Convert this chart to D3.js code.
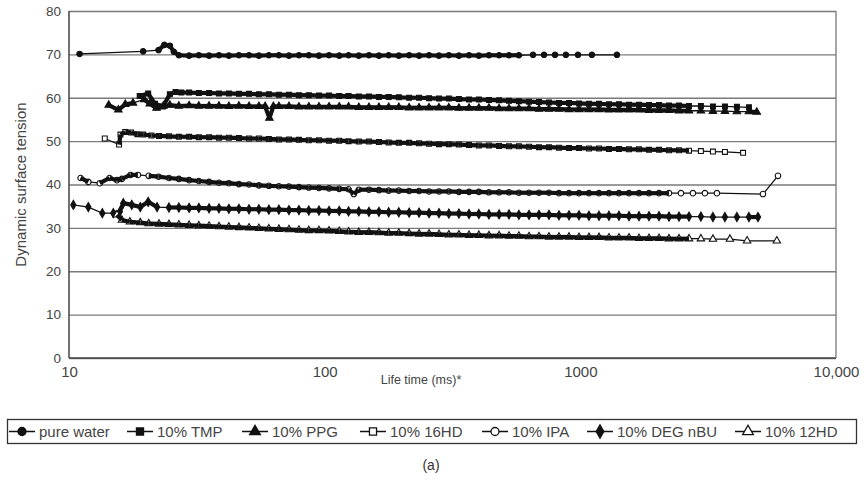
<!DOCTYPE html>
<html>
<head>
<meta charset="utf-8">
<script src="https://cdn.jsdelivr.net/npm/d3@7"></script>
<style>
  body { margin: 0; background: #fff; }
  svg { font-family: "Liberation Sans", Arial, sans-serif; }
</style>
</head>
<body>
<div id="chart"></div>
<script>
// Dynamic surface tension vs bubble life time, (a)

const seriesNames = ["pure water", "10% TMP", "10% PPG", "10% 16HD", "10% IPA", "10% DEG nBU", "10% 12HD"];
const yTicks = [0, 10, 20, 30, 40, 50, 60, 70, 80];
const xTicks = [10, 100, 1000, 10000];
const xTickLabels = ["10", "100", "1000", "10,000"];

// [life time ms, surface tension]
const pureWater = [[11,70.1],[19.5,70.7],[22.4,71.0],[23.6,72.2],[24.8,72.0],[25.7,70.6],[26.9,69.8],[29.5,69.7],[32.2,69.8],[35.3,69.7],[38.6,69.8],[42.2,69.7],[46.2,69.8],[50.6,69.8],[55.3,69.7],[60.5,69.8],[66.2,69.8],[72.5,69.7],[79.3,69.8],[86.7,69.8],[95,69.7],[104,69.8],[114,69.7],[124,69.8],[136,69.7],[149,69.8],[163,69.7],[178,69.8],[195,69.7],[214,69.8],[234,69.7],[256,69.8],[280,69.7],[306,69.8],[335,69.7],[367,69.8],[401,69.7],[439,69.8],[481,69.8],[526,69.8],[575,69.8],[653,69.9],[721,69.9],[796,69.9],[878,69.9],[979,69.9],[1110,69.9],[1390,69.9]];

const tmp = [[18.9,60.4],[20.4,61.0],[21.7,58.6],[23.3,58.0],[24.8,60.8],[26.1,61.3],[27.5,61.2],[29.5,61.2],[32.2,61.1],[35.3,61.1],[38.6,61.0],[42.2,61.0],[46.2,60.9],[50.6,60.9],[55.3,60.8],[60.5,60.8],[66.2,60.7],[72.5,60.7],[79.3,60.6],[86.7,60.6],[95,60.5],[104,60.5],[114,60.4],[124,60.4],[136,60.3],[149,60.3],[163,60.2],[178,60.2],[195,60.1],[214,60.0],[234,60.0],[256,59.9],[280,59.8],[306,59.8],[335,59.7],[367,59.6],[401,59.6],[439,59.5],[481,59.4],[526,59.3],[575,59.2],[630,59.1],[689,59.0],[754,58.9],[825,58.8],[903,58.8],[988,58.7],[1081,58.6],[1183,58.6],[1294,58.5],[1416,58.5],[1550,58.4],[1696,58.4],[1856,58.3],[2031,58.3],[2222,58.2],[2432,58.2],[2661,58.1],[2962,58.1],[3301,58.0],[3678,58.0],[4097,57.9],[4565,57.8]];

const ppg = [[14.3,58.3],[15.6,57.2],[16.6,58.5],[17.8,58.8],[19.7,59.6],[20.7,58.6],[22.0,57.6],[23.4,58.1],[24.8,58.3],[26.9,58.1],[29.5,58.2],[32.2,58.1],[35.3,58.1],[38.6,58.1],[42.2,58.0],[46.2,58.1],[50.6,58.0],[55.3,58.0],[58.5,58.0],[60.8,55.3],[63,58.0],[66.2,58.0],[72.5,58.0],[79.3,57.9],[86.7,57.9],[95,57.9],[104,57.9],[114,57.9],[124,57.9],[136,57.8],[149,57.8],[163,57.8],[178,57.8],[195,57.8],[214,57.7],[234,57.7],[256,57.7],[280,57.7],[306,57.7],[335,57.6],[367,57.6],[401,57.6],[439,57.6],[481,57.5],[526,57.5],[575,57.5],[630,57.5],[689,57.4],[754,57.4],[825,57.4],[903,57.3],[988,57.3],[1081,57.3],[1183,57.3],[1294,57.2],[1416,57.2],[1550,57.2],[1696,57.2],[1856,57.1],[2031,57.1],[2222,57.1],[2432,57.0],[2661,57.0],[2962,57.0],[3301,56.9],[3678,56.9],[4097,56.8],[4565,56.8],[4900,56.7]];

const hd16 = [[13.8,50.6],[15.7,49.2],[15.9,51.5],[16.6,52.1],[17.5,52.0],[18.5,51.6],[19.5,51.5],[21,51.3],[22.5,51.2],[24.6,51.1],[26.9,51.0],[29.5,51.0],[32.2,50.9],[35.3,50.9],[38.6,50.8],[42.2,50.8],[46.2,50.7],[50.6,50.6],[55.3,50.6],[60.5,50.5],[66.2,50.4],[72.5,50.4],[79.3,50.3],[86.7,50.2],[95,50.2],[104,50.1],[114,50.1],[124,50.0],[136,49.9],[149,49.9],[163,49.8],[178,49.7],[195,49.6],[214,49.6],[234,49.5],[256,49.4],[280,49.3],[306,49.3],[335,49.2],[367,49.1],[401,49.0],[439,49.0],[481,48.9],[526,48.8],[575,48.8],[630,48.7],[689,48.6],[754,48.6],[825,48.5],[903,48.4],[988,48.4],[1081,48.3],[1183,48.3],[1294,48.2],[1416,48.2],[1550,48.1],[1696,48.1],[1856,48.0],[2031,48.0],[2222,47.9],[2432,47.9],[2661,47.8],[2962,47.7],[3301,47.6],[3678,47.5],[4330,47.3]];

const ipa = [[11.1,41.5],[11.9,40.6],[13.2,40.3],[14.4,41.5],[15.4,41.0],[16.1,41.3],[17.4,42.2],[18.6,42.2],[20.5,42.0],[22.4,41.8],[24.6,41.5],[26.9,41.3],[29.5,41.0],[32.2,40.8],[35.3,40.6],[38.6,40.4],[42.2,40.3],[46.2,40.1],[50.6,40.0],[55.3,39.8],[60.5,39.7],[66.2,39.6],[72.5,39.5],[79.3,39.4],[86.7,39.3],[95,39.2],[104,39.1],[114,39.0],[124,38.9],[130,37.8],[136,38.8],[149,38.8],[163,38.7],[178,38.6],[195,38.6],[214,38.5],[234,38.5],[256,38.4],[280,38.4],[306,38.4],[335,38.3],[367,38.3],[401,38.3],[439,38.2],[481,38.2],[526,38.2],[575,38.1],[630,38.1],[689,38.1],[754,38.1],[825,38.0],[903,38.0],[988,38.0],[1081,38.0],[1183,38.0],[1294,38.0],[1416,38.0],[1550,38.0],[1696,38.0],[1856,38.0],[2031,38.0],[2222,38.0],[2475,38.0],[2756,38.0],[3071,38.0],[3421,38.0],[5180,37.8],[5930,42.0]];

const degNbu = [[10.4,35.3],[11.9,34.8],[13.5,33.4],[14.9,33.4],[15.8,33.7],[16.3,35.7],[17.6,35.3],[19.0,34.8],[20.4,36.0],[22.1,34.8],[24.6,34.7],[26.9,34.7],[29.5,34.6],[32.2,34.6],[35.3,34.5],[38.6,34.5],[42.2,34.4],[46.2,34.4],[50.6,34.3],[55.3,34.3],[60.5,34.2],[66.2,34.2],[72.5,34.1],[79.3,34.1],[86.7,34.0],[95,34.0],[104,33.9],[114,33.9],[124,33.8],[136,33.8],[149,33.7],[163,33.7],[178,33.6],[195,33.6],[214,33.5],[234,33.5],[256,33.4],[280,33.4],[306,33.3],[335,33.3],[367,33.2],[401,33.2],[439,33.1],[481,33.1],[526,33.1],[575,33.0],[630,33.0],[689,33.0],[754,33.0],[825,32.9],[903,32.9],[988,32.9],[1081,32.8],[1183,32.8],[1294,32.8],[1416,32.8],[1550,32.7],[1696,32.7],[1856,32.7],[2031,32.7],[2222,32.6],[2432,32.6],[2661,32.6],[2962,32.6],[3301,32.5],[3678,32.5],[4097,32.5],[4565,32.5],[4955,32.5]];

const hd12 = [[15.4,33.0],[16.1,31.8],[17.3,31.4],[19.0,31.2],[20.5,31.0],[22.5,30.9],[24.6,30.8],[26.9,30.7],[29.5,30.6],[32.2,30.5],[35.3,30.4],[38.6,30.3],[42.2,30.2],[46.2,30.1],[50.6,30.0],[55.3,29.9],[60.5,29.8],[66.2,29.7],[72.5,29.6],[79.3,29.5],[86.7,29.4],[95,29.4],[104,29.3],[114,29.2],[124,29.1],[136,29.0],[149,29.0],[163,28.9],[178,28.8],[195,28.8],[214,28.7],[234,28.6],[256,28.6],[280,28.5],[306,28.4],[335,28.4],[367,28.3],[401,28.3],[439,28.2],[481,28.2],[526,28.1],[575,28.1],[630,28.0],[689,28.0],[754,27.9],[825,27.9],[903,27.9],[988,27.8],[1081,27.8],[1183,27.8],[1294,27.7],[1416,27.7],[1550,27.7],[1696,27.6],[1856,27.6],[2031,27.6],[2222,27.5],[2432,27.5],[2661,27.5],[2962,27.5],[3301,27.4],[3846,27.4],[4490,27.0],[5870,27.0]];

const seriesData = [pureWater, tmp, ppg, hd16, ipa, degNbu, hd12];
const symbolTypes = [d3.symbolCircle, d3.symbolSquare, d3.symbolTriangle, d3.symbolSquare, d3.symbolCircle, d3.symbolDiamond, d3.symbolTriangle];
const symbolFilled = [true, true, true, false, false, true, false];

const W = 864, H = 482;
const margin = { top: 11, right: 28, bottom: 124, left: 69 };
const width = W - margin.left - margin.right;
const height = H - margin.top - margin.bottom;

const svg = d3.select("#chart").append("svg")
  .attr("width", W)
  .attr("height", H);

const g = svg.append("g")
  .attr("transform", `translate(${margin.left},${margin.top})`);

const x = d3.scaleLog().domain([10, 10000]).range([0, width]);
const y = d3.scaleLinear().domain([0, 80]).range([height, 0]);

// gridlines + y labels
const yAxis = g.append("g")
  .call(d3.axisLeft(y).tickValues(yTicks).tickSize(-width).tickPadding(8).tickFormat(d3.format("d")));
yAxis.select(".domain").remove();
yAxis.selectAll(".tick line").attr("stroke", "#7a7a7a").attr("stroke-width", 1.3);
yAxis.selectAll(".tick text").attr("fill", "#444").style("font-size", "13.5px");

// x axis
const xAxis = g.append("g")
  .attr("transform", `translate(0,${height})`)
  .call(d3.axisBottom(x).tickValues(xTicks).tickSize(0).tickPadding(8)
    .tickFormat((d, i) => xTickLabels[i]));
xAxis.select(".domain").remove();
xAxis.selectAll(".tick text").attr("fill", "#444").style("font-size", "15px");

// frame
g.append("line").attr("x1", 0).attr("x2", 0).attr("y1", 0).attr("y2", height)
  .attr("stroke", "#444").attr("stroke-width", 1.5);
g.append("line").attr("x1", 0).attr("x2", width).attr("y1", height).attr("y2", height)
  .attr("stroke", "#444").attr("stroke-width", 1.5);
g.append("line").attr("x1", width).attr("x2", width).attr("y1", 0).attr("y2", height)
  .attr("stroke", "#777").attr("stroke-width", 1.3);

// series: thin connector, markers, then thick band where points crowd together
const line = d3.line().x(d => x(d[0])).y(d => y(d[1]));
seriesData.forEach((data, i) => {
  g.append("path")
    .datum(data)
    .attr("fill", "none")
    .attr("stroke", "#111")
    .attr("stroke-width", 1.3)
    .attr("d", line);
  g.append("g").selectAll("path")
    .data(data)
    .join("path")
    .attr("transform", d => `translate(${x(d[0])},${y(d[1])})`)
    .attr("d", d3.symbol().type(symbolTypes[i]).size(24))
    .attr("fill", symbolFilled[i] ? "#111" : "#fff")
    .attr("stroke", "#111")
    .attr("stroke-width", 1.1);
  const pairs = d3.pairs(data).filter(([a, b]) => Math.abs(x(b[0]) - x(a[0])) <= 10.5);
  g.append("g").selectAll("line")
    .data(pairs)
    .join("line")
    .attr("x1", d => x(d[0][0])).attr("y1", d => y(d[0][1]))
    .attr("x2", d => x(d[1][0])).attr("y2", d => y(d[1][1]))
    .attr("stroke", "#111")
    .attr("stroke-width", 4.2);
});

// axis titles
svg.append("text")
  .attr("x", 421).attr("y", 384)
  .attr("text-anchor", "middle")
  .attr("fill", "#444")
  .style("font-size", "12.5px")
  .text("Life time (ms)*");

svg.append("text")
  .attr("transform", `translate(26,${margin.top + height / 2}) rotate(-90)`)
  .attr("text-anchor", "middle")
  .attr("fill", "#444")
  .style("font-size", "15px")
  .text("Dynamic surface tension");

// legend
const legend = svg.append("g");
legend.append("rect")
  .attr("x", 7.5).attr("y", 419.5).attr("width", 849).attr("height", 24)
  .attr("fill", "#fff").attr("stroke", "#333").attr("stroke-width", 1.3);

const legendX = [9, 127, 242, 360, 482, 587, 735];
seriesNames.forEach((name, i) => {
  const lx = legendX[i];
  const item = legend.append("g").attr("transform", `translate(${lx},431.5)`);
  item.append("line").attr("x1", 0).attr("x2", 26).attr("y1", 0).attr("y2", 0)
    .attr("stroke", "#111").attr("stroke-width", 1.5);
  item.append("path")
    .attr("transform", "translate(13,0)")
    .attr("d", d3.symbol().type(symbolTypes[i]).size(50))
    .attr("fill", symbolFilled[i] ? "#111" : "#fff")
    .attr("stroke", "#111").attr("stroke-width", 1.3);
  item.append("text")
    .attr("x", 30).attr("y", 5.5)
    .attr("fill", "#444")
    .style("font-size", "15px")
    .text(name);
});

svg.append("text")
  .attr("x", 431).attr("y", 470)
  .attr("text-anchor", "middle")
  .attr("fill", "#333")
  .style("font-size", "14px")
  .text("(a)");
</script>
</body>
</html>
